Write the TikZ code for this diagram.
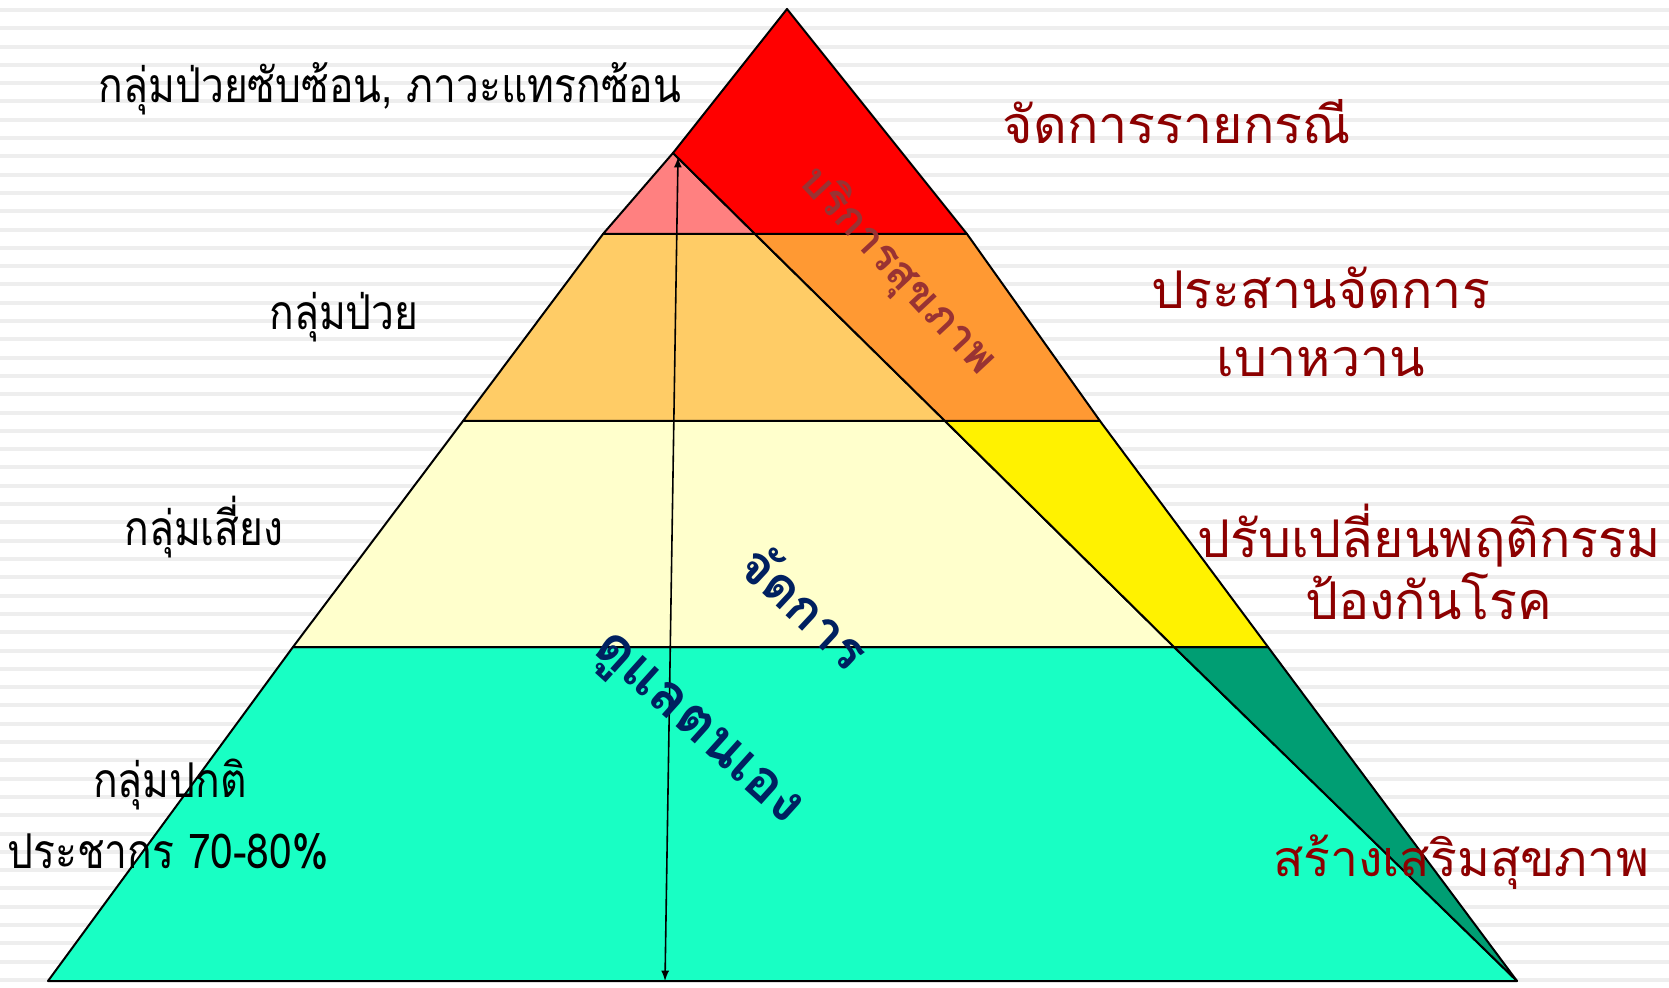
\documentclass[tikz,border=0pt]{standalone}
\usepackage{fontspec}
\newfontfamily\thaifont[Script=Thai]{Loma}
\newfontfamily\thainarrow[Script=Thai,FakeStretch=0.85]{Loma}
\usetikzlibrary{arrows}

\definecolor{pinkred}{RGB}{255,128,128}
\definecolor{lightorange}{RGB}{255,204,102}
\definecolor{deeporange}{RGB}{255,153,51}
\definecolor{paleyellow}{RGB}{255,255,204}
\definecolor{aqua}{RGB}{24,255,196}
\definecolor{darkteal}{RGB}{0,158,115}
\definecolor{labelred}{RGB}{140,0,0}
\definecolor{bandred}{RGB}{153,51,51}
\definecolor{navyblue}{RGB}{0,32,96}
\definecolor{stripe}{RGB}{238,238,238}

\begin{document}
\begin{tikzpicture}[x=0.5pt,y=-0.5pt,
  layer/.style={draw=black, line width=1pt, line join=round},
  grouplabel/.style={inner sep=0pt, font=\thainarrow\fontsize{24}{28}\selectfont},
  tasklabel/.style={inner sep=0pt, align=center, text=labelred, font=\thaifont\fontsize{26}{34}\selectfont},
  bandtext/.style={inner sep=0pt, text=bandred, font=\thaifont\bfseries\fontsize{22}{26}\selectfont},
  selftext/.style={inner sep=0pt, text=navyblue, font=\thaifont\bfseries\fontsize{26}{30}\selectfont}]
\useasboundingbox (0,0) rectangle (1669,988);
\fill[white] (0,0) rectangle (1669,988);
% striped background
\foreach \i in {0,...,53}
  \fill[stripe] (0,{8+18.3*\i}) rectangle (1669,{12+18.3*\i});

% corners of the pyramid
\coordinate (T) at (787,9);
\coordinate (P) at (673,153);
\coordinate (L1) at (603,234);
\coordinate (L2) at (463,421);
\coordinate (L3) at (293,647);
\coordinate (L4) at (48,981);
\coordinate (R1) at (967,234);
\coordinate (R2) at (1100,421);
\coordinate (R3) at (1268,647);
\coordinate (R4) at (1517,981);
\coordinate (D1) at (755,234);
\coordinate (D2) at (945,421);
\coordinate (D3) at (1174,647);

\filldraw[layer, fill=aqua] (L3) -- (D3) -- (R4) -- (L4) -- cycle;
\filldraw[layer, fill=darkteal] (D3) -- (R3) -- (R4) -- cycle;
\filldraw[layer, fill=paleyellow] (L2) -- (D2) -- (D3) -- (L3) -- cycle;
\filldraw[layer, fill=yellow] (D2) -- (R2) -- (R3) -- (D3) -- cycle;
\filldraw[layer, fill=lightorange] (L1) -- (D1) -- (D2) -- (L2) -- cycle;
\filldraw[layer, fill=deeporange] (D1) -- (R1) -- (R2) -- (D2) -- cycle;
\filldraw[layer, fill=pinkred] (P) -- (D1) -- (L1) -- cycle;
\filldraw[layer, fill=red] (T) -- (R1) -- (D1) -- (P) -- cycle;

% double arrow
\coordinate (top) at (678,157);
\coordinate (bot) at (665,981);
\draw[latex-latex, line width=0.8pt] (top) -- (bot);

% groups on the left
\node[grouplabel] (complex) at (390,89) {กลุ่มป่วยซับซ้อน, ภาวะแทรกซ้อน};
\node[grouplabel] (sick) at (344,317) {กลุ่มป่วย};
\node[grouplabel] (risk) at (204,527) {กลุ่มเสี่ยง};
\node[grouplabel] (normal) at (170,784) {กลุ่มปกติ};
\node[grouplabel] (people) at (168,852) {ประชากร 70-80\%};

% tasks on the right
\node[tasklabel] (casemgmt) at (1177,122) {จัดการรายกรณี};
\node[tasklabel] (diabetes) at (1321,322) {ประสานจัดการ\\เบาหวาน};
\node[tasklabel, font=\thaifont\fontsize{26}{31}\selectfont] (behaviour) at (1429,562) {ปรับเปลี่ยนพฤติกรรม\\ป้องกันโรค};
\node[tasklabel, font=\thaifont\fontsize{25}{30}\selectfont] (promote) at (1461,862) {สร้างเสริมสุขภาพ};

% texts across the pyramid
\node[bandtext, rotate=-47] (service) at (897,271) {บริการสุขภาพ};
\node[selftext, rotate=-43] (manage) at (806,606) {จัดการ};
\node[selftext, rotate=-42, font=\thaifont\bfseries\fontsize{28}{32}\selectfont] (selfcare) at (695,732) {ดูแลตนเอง};
\end{tikzpicture}
\end{document}
